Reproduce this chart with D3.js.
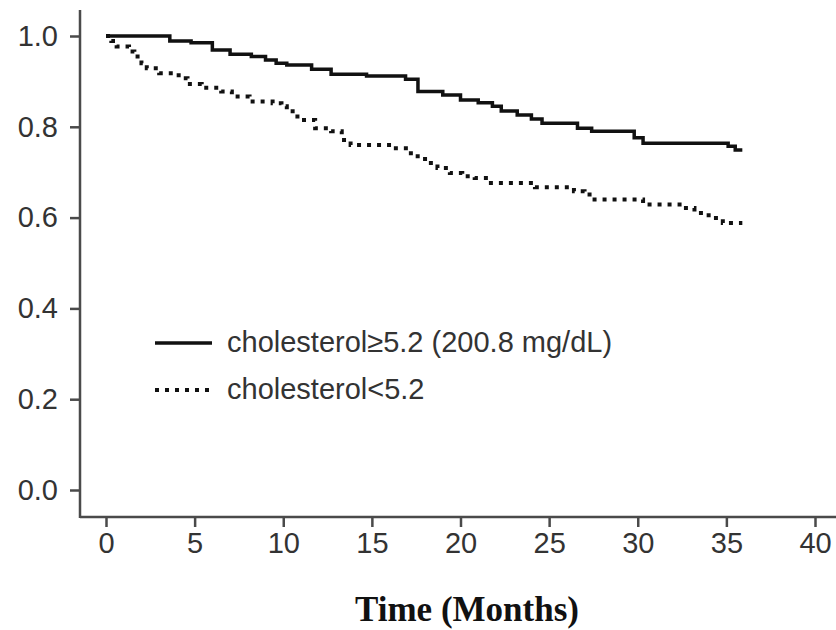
<!DOCTYPE html>
<html>
<head>
<meta charset="utf-8">
<script src="https://cdn.jsdelivr.net/npm/d3@7"></script>
<style>
  body { margin: 0; background: #fff; }
  text { font-family: "Liberation Sans", Arial, sans-serif; }
</style>
</head>
<body>
<script>
const width = 836;
const height = 630;

// Kaplan-Meier steps (months, survival)
const highTimes = [0, 3.6, 4.8, 6.0, 7.0, 8.2, 9.0, 9.6, 10.2, 11.6, 12.7, 14.7, 16.9, 17.6, 19.0, 20.0, 21.0, 21.8, 22.3, 23.2, 24.0, 24.6, 26.6, 27.4, 29.8, 30.3, 35.1, 35.5, 35.9];
const highSurv  = [1.0, 0.989, 0.985, 0.969, 0.96, 0.955, 0.947, 0.94, 0.936, 0.927, 0.916, 0.912, 0.905, 0.878, 0.870, 0.859, 0.853, 0.845, 0.835, 0.826, 0.817, 0.808, 0.797, 0.79, 0.776, 0.764, 0.757, 0.749, 0.749];

const lowTimes = [0, 0.3, 0.6, 1.3, 1.6, 2.0, 2.3, 3.0, 4.1, 4.6, 5.4, 6.5, 7.1, 8.1, 9.4, 9.9, 10.2, 10.8, 11.8, 12.7, 13.3, 13.8, 16.2, 17.2, 18.0, 18.7, 19.4, 20.1, 20.8, 21.6, 24.2, 26.4, 27.0, 27.4, 30.3, 32.6, 33.2, 34.0, 34.8, 35.9];
const lowSurv  = [1.0, 0.989, 0.977, 0.966, 0.955, 0.94, 0.929, 0.918, 0.907, 0.894, 0.886, 0.878, 0.867, 0.856, 0.852, 0.845, 0.834, 0.815, 0.797, 0.790, 0.771, 0.760, 0.753, 0.735, 0.720, 0.709, 0.698, 0.691, 0.687, 0.676, 0.667, 0.658, 0.651, 0.640, 0.629, 0.621, 0.610, 0.599, 0.588, 0.588];

const xTicks = [0, 5, 10, 15, 20, 25, 30, 35, 40];
const yTicks = [0, 0.2, 0.4, 0.6, 0.8, 1.0];

const legendLabels = ["cholesterol\u22655.2 (200.8 mg/dL)", "cholesterol<5.2"];
const xTitle = "Time (Months)";

const axisColor = "#4a4a4a";
const labelColor = "#333";

const xScale = d3.scaleLinear()
    .domain([0, 40])
    .range([106, 815]);

const yScale = d3.scaleLinear()
    .domain([0, 1])
    .range([490, 36]);

const axisX = 80;     // y-axis line position
const axisY = 517;    // x-axis line position

const svg = d3.select("body")
    .append("svg")
    .attr("width", width)
    .attr("height", height);

//y axis
const yAxis = svg.append("g")
    .attr("transform", `translate(${axisX},0)`)
    .call(d3.axisLeft(yScale)
        .tickValues(yTicks)
        .tickFormat(d3.format(".1f"))
        .tickSize(10)
        .tickPadding(12));
yAxis.select(".domain").remove();
yAxis.selectAll(".tick line")
    .attr("stroke", axisColor)
    .attr("stroke-width", 2.5);
yAxis.selectAll(".tick text")
    .attr("fill", labelColor)
    .attr("font-size", 29)
    .attr("font-family", "Liberation Sans, Arial, sans-serif");

svg.append("line")
    .attr("x1", axisX)
    .attr("x2", axisX)
    .attr("y1", 10)
    .attr("y2", axisY + 1)
    .attr("stroke", axisColor)
    .attr("stroke-width", 2.5);

//x axis
const xAxis = svg.append("g")
    .attr("transform", `translate(0,${axisY})`)
    .call(d3.axisBottom(xScale)
        .tickValues(xTicks)
        .tickFormat(d3.format("d"))
        .tickSize(10)
        .tickPadding(5));
xAxis.select(".domain").remove();
xAxis.selectAll(".tick line")
    .attr("stroke", axisColor)
    .attr("stroke-width", 2.5);
xAxis.selectAll(".tick text")
    .attr("fill", labelColor)
    .attr("font-size", 29)
    .attr("font-family", "Liberation Sans, Arial, sans-serif");

svg.append("line")
    .attr("x1", axisX)
    .attr("x2", width)
    .attr("y1", axisY)
    .attr("y2", axisY)
    .attr("stroke", axisColor)
    .attr("stroke-width", 2.5);

//x title
svg.append("text")
    .attr("x", 467)
    .attr("y", 621)
    .attr("text-anchor", "middle")
    .style("font-family", "'Liberation Serif', 'Times New Roman', serif")
    .attr("font-weight", "bold")
    .attr("font-size", 35)
    .attr("fill", "#111")
    .text(xTitle);

//curves
const line = d3.line()
    .x(d => xScale(d[0]))
    .y(d => yScale(d[1]))
    .curve(d3.curveStepAfter);

const highData = highTimes.map((t, i) => [t, highSurv[i]]);
const lowData = lowTimes.map((t, i) => [t, lowSurv[i]]);

svg.append("path")
    .datum(lowData)
    .attr("d", line)
    .attr("fill", "none")
    .attr("stroke", "#111")
    .attr("stroke-width", 4)
    .attr("stroke-dasharray", "4 6");

svg.append("path")
    .datum(highData)
    .attr("d", line)
    .attr("fill", "none")
    .attr("stroke", "#111")
    .attr("stroke-width", 3.5);

//legend
const legend = svg.append("g");
const legendRows = [
  {label: legendLabels[0], dash: null, y: 343},
  {label: legendLabels[1], dash: "4 6", y: 390}
];

legendRows.forEach(r => {
  legend.append("line")
      .attr("x1", 155)
      .attr("x2", 212)
      .attr("y1", r.y)
      .attr("y2", r.y)
      .attr("stroke", "#111")
      .attr("stroke-width", r.dash ? 4 : 3.5)
      .attr("stroke-dasharray", r.dash);
  legend.append("text")
      .attr("x", 227)
      .attr("y", r.y + 9)
      .attr("font-size", 29)
      .attr("fill", labelColor)
      .text(r.label);
});
</script>
</body>
</html>
